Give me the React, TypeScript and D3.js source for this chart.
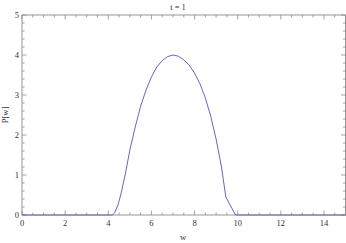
import React from "react";
import * as d3 from "d3";

const title = "t = 1";
const xLabel = "w";
const yLabel = "P[w]";
const wValues = [0, 4.2, 4.3, 4.45, 4.6, 4.8, 5.0, 5.25, 5.5, 5.75, 6.0, 6.25, 6.5, 6.75, 7.0, 7.25, 7.5, 7.75, 8.0, 8.25, 8.5, 8.75, 9.0, 9.25, 9.45, 9.7, 9.9, 15];
const pValues = [0, 0, 0.06, 0.25, 0.55, 1.05, 1.62, 2.2, 2.72, 3.12, 3.45, 3.7, 3.86, 3.96, 4.0, 3.97, 3.88, 3.75, 3.55, 3.28, 2.93, 2.47, 1.9, 1.2, 0.45, 0.2, 0, 0];
const xMajor = [0, 2, 4, 6, 8, 10, 12, 14];
const yMajor = [0, 1, 2, 3, 4, 5];

const W = 346;
const H = 243;
const left = 22;
const right = 345.5;
const top = 15;
const bottom = 215;

const App = () => {
  const x = d3.scaleLinear().domain([0, 15]).range([left, right]);
  const y = d3.scaleLinear().domain([0, 5]).range([bottom, top]);
  const line = d3
    .line<number>()
    .x((d, i) => x(wValues[i]))
    .y(d => y(d));

  const xMinor = d3.range(0, 15.01, 0.5).filter(v => v % 2 !== 0);
  const yMinor = d3.range(0, 5.01, 0.2).filter(v => Math.abs(v - Math.round(v)) > 0.01);
  const frame = "#8c8c8c";
  const font = "'Liberation Serif', 'DejaVu Serif', serif";

  return (
    <svg width={W} height={H} style={{ position: "absolute", left: 0, top: 0 }}>
      <rect width={W} height={H} fill="white" />
      {/* ticks, inward on all sides */}
      <g stroke={frame} strokeWidth={0.8}>
        {xMajor.map(v => (
          <g key={"xm" + v}>
            <line x1={x(v)} x2={x(v)} y1={bottom} y2={bottom - 4.5} />
            <line x1={x(v)} x2={x(v)} y1={top} y2={top + 4.5} />
          </g>
        ))}
        {xMinor.map(v => (
          <g key={"xn" + v}>
            <line x1={x(v)} x2={x(v)} y1={bottom} y2={bottom - 2.5} />
            <line x1={x(v)} x2={x(v)} y1={top} y2={top + 2.5} />
          </g>
        ))}
        {yMajor.map(v => (
          <g key={"ym" + v}>
            <line x1={left} x2={left + 4.5} y1={y(v)} y2={y(v)} />
            <line x1={right} x2={right - 4.5} y1={y(v)} y2={y(v)} />
          </g>
        ))}
        {yMinor.map(v => (
          <g key={"yn" + v}>
            <line x1={left} x2={left + 2.5} y1={y(v)} y2={y(v)} />
            <line x1={right} x2={right - 2.5} y1={y(v)} y2={y(v)} />
          </g>
        ))}
      </g>
      <rect x={left} y={top} width={right - left} height={bottom - top} fill="none" stroke={frame} strokeWidth={0.9} />
      <path d={line(pValues) || ""} fill="none" stroke="#6666c4" strokeWidth={1} />
      <g fontFamily={font} fontSize={8.5} fill="#333">
        {xMajor.map(v => (
          <text key={"xl" + v} x={x(v)} y={bottom + 11} textAnchor="middle">{v}</text>
        ))}
        {yMajor.map(v => (
          <text key={"yl" + v} x={left - 3} y={y(v) + 3} textAnchor="end">{v}</text>
        ))}
        <text x={178} y={10} textAnchor="middle">{title}</text>
        <text x={183} y={240} textAnchor="middle">{xLabel}</text>
        <text transform={`translate(8,${(top + bottom) / 2}) rotate(-90)`} textAnchor="middle">{yLabel}</text>
      </g>
    </svg>
  );
};

export default App;
